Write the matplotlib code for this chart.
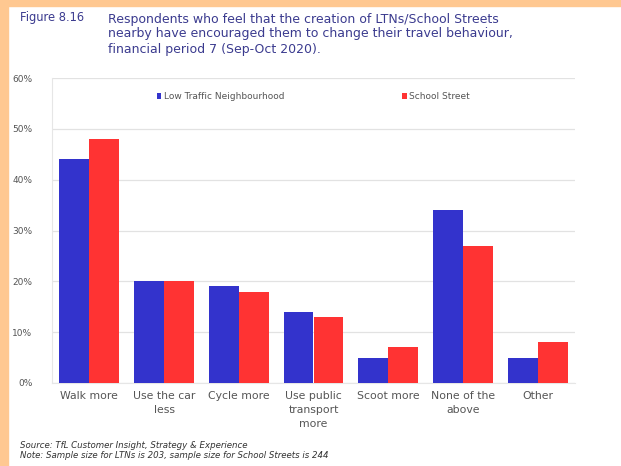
import numpy as np
import matplotlib.pyplot as plt
from matplotlib.patches import Rectangle
import matplotlib.ticker as mticker

categories = ["Walk more", "Use the car\nless", "Cycle more", "Use public\ntransport\nmore",
              "Scoot more", "None of the\nabove", "Other"]
ltn = [44, 20, 19, 14, 5, 34, 5]
school = [48, 20, 18, 13, 7, 27, 8]
series_names = ["Low Traffic Neighbourhood", "School Street"]
yticks = [0, 10, 20, 30, 40, 50, 60]

blue = "#3333cc"
red = "#ff3333"
navy = "#3b3b8f"
grey = "#555555"

fig = plt.figure(figsize=(6.21, 4.66), dpi=100)
fig.patch.set_facecolor("white")

# orange border strips (left and top)
fig.patches.append(Rectangle((0, 0), 8/621, 1, transform=fig.transFigure,
                             color="#ffc891", zorder=0))
fig.patches.append(Rectangle((0, 1 - 6/466), 1, 6/466, transform=fig.transFigure,
                             color="#ffc891", zorder=0))

ax = fig.add_axes([52/621, 1 - 383/466, 523/621, 305/466])
x = np.arange(len(categories))
w = 0.4
ax.bar(x - w/2, ltn, w, color=blue, label=series_names[0], zorder=3, linewidth=0)
ax.bar(x + w/2, school, w, color=red, label=series_names[1], zorder=3, linewidth=0)

ax.set_xlim(-0.5, len(categories) - 0.5)
ax.set_ylim(0, 60)
ax.set_yticks(yticks)
ax.yaxis.set_major_formatter(mticker.FuncFormatter(lambda v, p: "%d%%" % v))
ax.set_xticks(x)
ax.set_xticklabels(categories, fontsize=7.8, color=grey, linespacing=1.45)
ax.tick_params(axis="y", labelsize=6.5, colors=grey, length=0, pad=14)
ax.tick_params(axis="x", length=0, pad=6)
ax.grid(axis="y", color="#e2e2e2", linewidth=0.9, zorder=0)
for s in ["top", "right"]:
    ax.spines[s].set_visible(False)
ax.spines["left"].set_color("#e6e6e6")
ax.spines["bottom"].set_color("#e6e6e6")

leg = ax.legend(loc="upper center", bbox_to_anchor=(0.5, 0.98), ncol=2, frameon=False,
                fontsize=6.5, handlelength=0.5, handleheight=0.5, handletextpad=0.3,
                columnspacing=13)
for t in leg.get_texts():
    t.set_color(grey)

fig.text(20/621, 1 - 18/466, "Figure 8.16", fontsize=8.3, color=navy, va="center")
fig.text(108/621, 1 - 34/466,
         "Respondents who feel that the creation of LTNs/School Streets\n"
         "nearby have encouraged them to change their travel behaviour,\n"
         "financial period 7 (Sep-Oct 2020).",
         fontsize=9, color=navy, va="center", linespacing=1.2)

fig.text(20/621, 1 - 446/466, "Source: TfL Customer Insight, Strategy & Experience",
         fontsize=6.2, color="#333333", style="italic", va="center")
fig.text(20/621, 1 - 455/466,
         "Note: Sample size for LTNs is 203, sample size for School Streets is 244",
         fontsize=6.2, color="#333333", style="italic", va="center")

fig.savefig("out.png", dpi=100)
